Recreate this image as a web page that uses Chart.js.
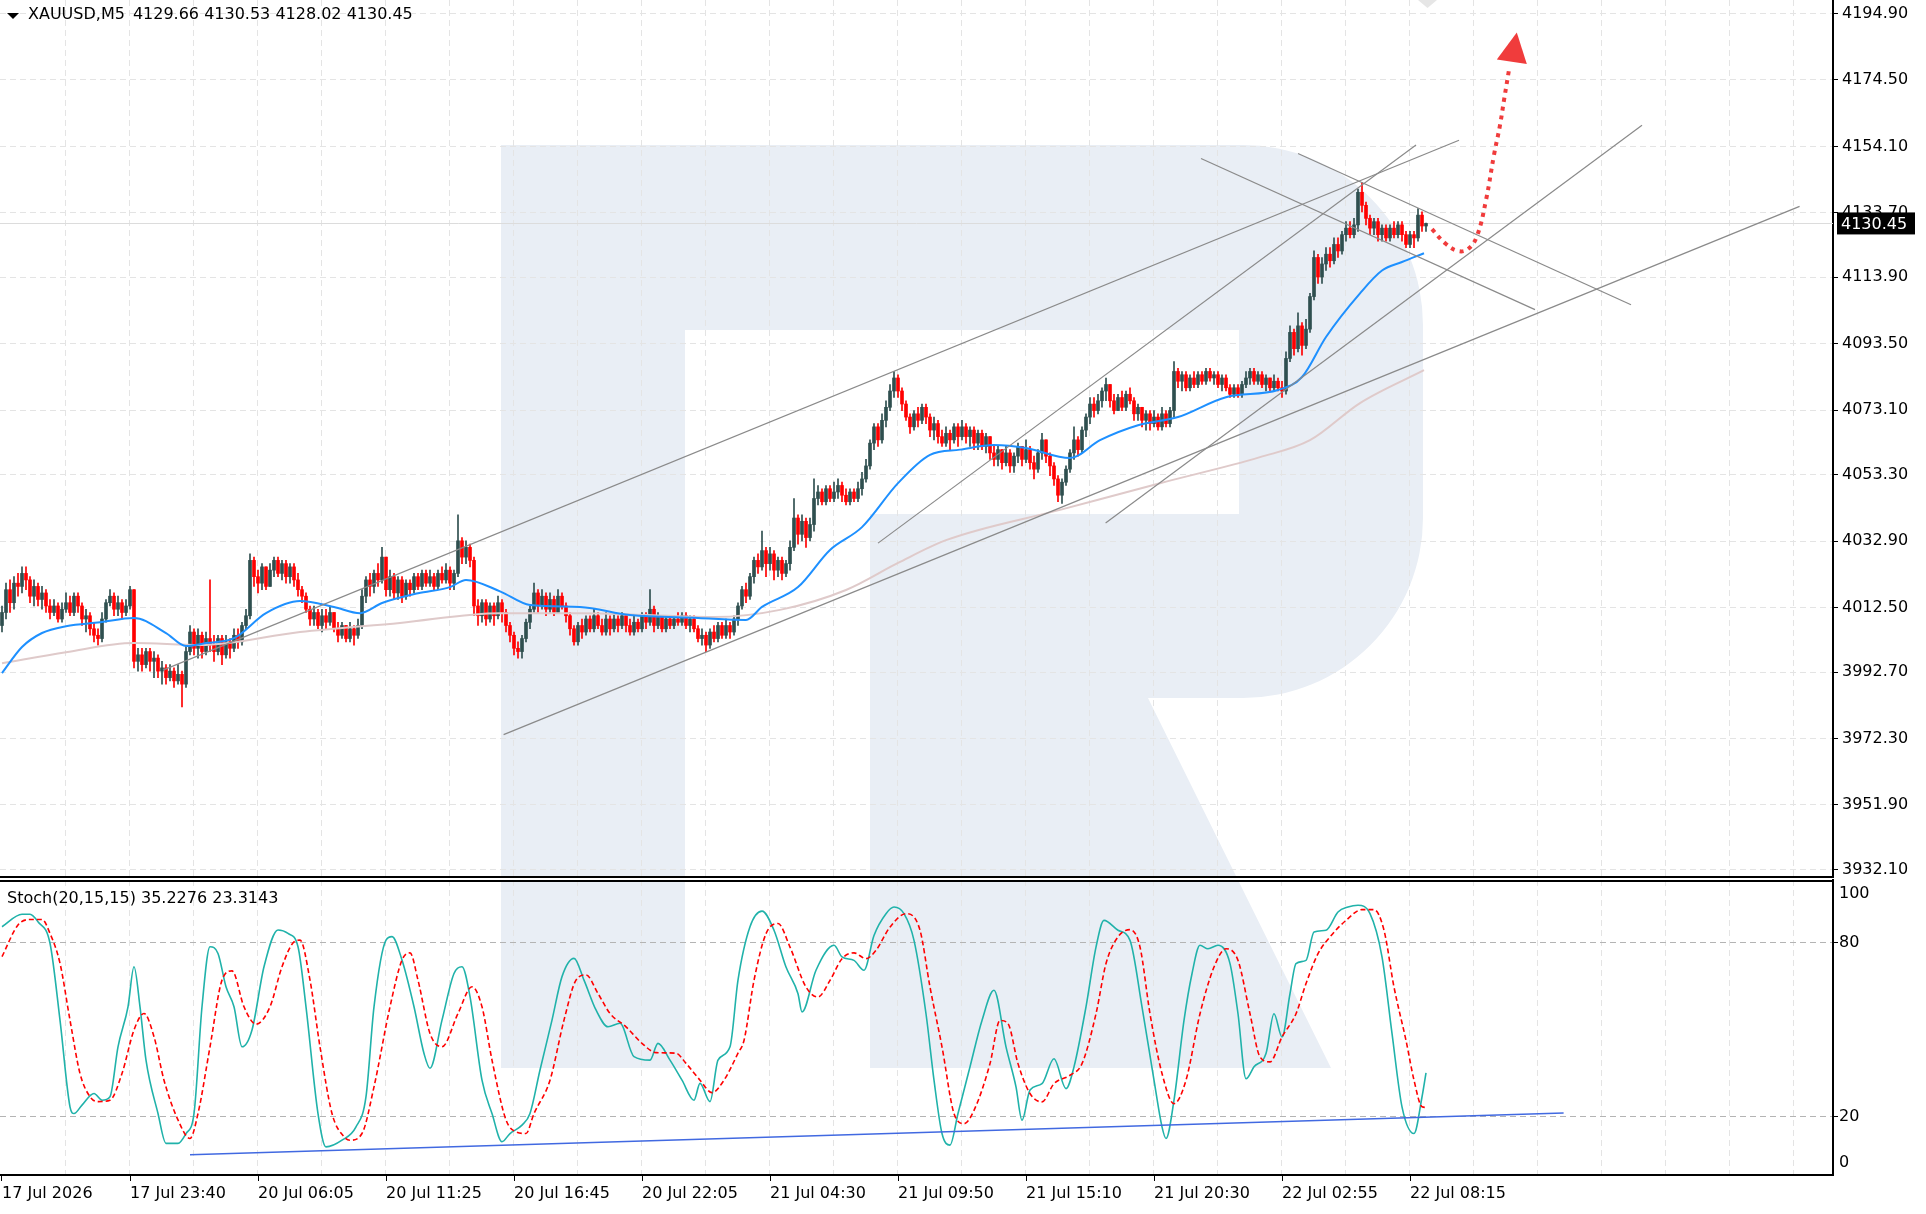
<!DOCTYPE html>
<html>
<head>
<meta charset="utf-8">
<script src="https://cdn.jsdelivr.net/npm/chart.js@4/dist/chart.umd.min.js"></script>
<style>
  html, body { margin: 0; padding: 0; background: #fff; overflow: hidden; }
  #wrap { position: relative; width: 1926px; height: 1214px; }
  #priceChart { position: absolute; left: 0; top: 0; }
  #stochChart { position: absolute; left: 0; top: 878px; }
</style>
</head>
<body>
<div id="wrap">
  <canvas id="priceChart" width="1926" height="878"></canvas>
  <canvas id="stochChart" width="1926" height="336"></canvas>
</div>
<script>
const symbolTitle = 'XAUUSD,M5  4129.66 4130.53 4128.02 4130.45';
const stochTitle = 'Stoch(20,15,15) 35.2276 23.3143';
const bidPrice = 4130.45;
const firstOpen = 4007;

const closes = [4011,4018,4014,4020,4019,4023,4021,4016,4019,4015,
  4017,4013,4011,4013,4009,4012,4014,4011,4016,4013,
  4009,4010,4006,4004,4003,4009,4014,4016,4012,4014,
  4011,4013,4018,3996,3998,3995,3999,3996,3997,3993,
  3994,3991,3993,3990,3992,3989,3999,4005,4000,4004,
  3999,4003,4001,3999,4003,3998,4002,4000,4004,4002,
  4007,4010,4027,4022,4020,4025,4019,4024,4027,4023,
  4026,4022,4025,4021,4018,4016,4012,4009,4011,4007,
  4010,4008,4011,4006,4004,4007,4003,4006,4004,4007,
  4016,4021,4019,4023,4021,4028,4018,4022,4017,4021,
  4016,4020,4018,4022,4019,4023,4020,4022,4019,4023,
  4021,4024,4020,4023,4033,4028,4031,4027,4013,4010,
  4014,4009,4013,4010,4014,4011,4007,4004,4000,3999,
  4003,4008,4012,4017,4013,4016,4012,4015,4011,4016,
  4013,4010,4006,4002,4007,4005,4009,4006,4010,4007,
  4005,4009,4006,4009,4007,4010,4007,4005,4008,4006,
  4010,4008,4012,4007,4010,4006,4009,4007,4009,4008,
  4010,4007,4009,4006,4003,4004,4001,4005,4003,4007,
  4004,4007,4005,4009,4013,4018,4016,4022,4027,4025,
  4030,4026,4029,4024,4027,4023,4026,4031,4040,4035,
  4039,4034,4038,4046,4048,4045,4049,4046,4048,4050,
  4047,4045,4048,4046,4049,4052,4056,4063,4068,4064,
  4070,4074,4079,4083,4079,4075,4071,4068,4072,4070,
  4074,4071,4067,4069,4065,4063,4066,4064,4068,4065,
  4068,4065,4067,4063,4066,4062,4065,4060,4058,4061,
  4057,4060,4056,4059,4062,4058,4061,4057,4055,4060,
  4064,4059,4056,4052,4047,4051,4055,4060,4064,4061,
  4067,4071,4075,4073,4076,4079,4081,4076,4073,4077,
  4074,4078,4076,4072,4074,4070,4072,4069,4071,4068,
  4072,4069,4073,4085,4082,4084,4080,4083,4081,4084,
  4082,4085,4083,4084,4081,4083,4080,4078,4080,4078,
  4081,4083,4085,4082,4084,4081,4083,4080,4082,4080,
  4079,4089,4097,4092,4099,4093,4098,4108,4120,4114,
  4118,4121,4119,4124,4122,4127,4129,4127,4130,4140,
  4136,4132,4129,4131,4127,4129,4126,4129,4127,4130,
  4127,4124,4127,4126,4133,4129.66,4130.45];

const highs = [4013,4020,4021,4022,4023,4025,4025,4022,4021,4020,
  4019,4018,4015,4015,4014,4014,4017,4016,4017,4017,
  4014,4012,4011,4008,4006,4011,4015,4018,4017,4016,
  4015,4015,4019,4018,4000,4000,4000,4000,3999,3998,
  3996,3995,3995,3994,3995,3993,4001,4007,4006,4006,
  4005,4005,4021,4004,4004,4004,4004,4003,4006,4006,
  4008,4012,4029,4028,4024,4026,4025,4026,4028,4028,
  4027,4027,4026,4026,4023,4019,4017,4013,4013,4012,
  4012,4012,4013,4011,4008,4008,4007,4008,4007,4009,
  4018,4022,4023,4024,4026,4031,4028,4024,4023,4022,
  4022,4021,4021,4023,4023,4024,4024,4024,4023,4024,
  4025,4026,4025,4024,4041,4034,4033,4032,4028,4015,
  4015,4015,4014,4014,4016,4015,4012,4008,4005,4002,
  4004,4009,4013,4020,4018,4018,4017,4017,4016,4018,
  4017,4014,4011,4007,4008,4009,4010,4010,4012,4011,
  4009,4011,4010,4011,4010,4011,4010,4009,4010,4009,
  4011,4011,4018,4013,4011,4010,4010,4010,4010,4011,
  4011,4011,4010,4010,4007,4006,4005,4006,4007,4008,
  4008,4009,4008,4010,4014,4019,4020,4023,4028,4029,
  4036,4031,4031,4030,4028,4028,4027,4033,4046,4041,
  4041,4040,4040,4052,4050,4049,4050,4050,4051,4052,
  4051,4049,4049,4049,4051,4054,4058,4064,4069,4069,
  4072,4076,4081,4085,4084,4080,4076,4072,4073,4074,
  4075,4075,4072,4071,4070,4067,4068,4067,4069,4069,
  4070,4069,4068,4068,4067,4067,4066,4065,4062,4062,
  4061,4062,4061,4060,4063,4062,4064,4062,4059,4061,
  4066,4064,4060,4057,4053,4052,4056,4061,4068,4065,
  4068,4072,4077,4077,4078,4080,4083,4081,4078,4078,
  4079,4079,4080,4077,4075,4074,4073,4073,4073,4072,
  4074,4073,4074,4088,4086,4085,4085,4084,4085,4085,
  4085,4086,4086,4085,4085,4084,4084,4081,4081,4081,
  4082,4085,4086,4086,4085,4085,4084,4083,4084,4083,
  4082,4091,4099,4098,4103,4100,4101,4109,4122,4121,
  4120,4123,4123,4126,4126,4128,4131,4131,4132,4141,
  4143,4137,4133,4132,4132,4130,4130,4130,4131,4131,
  4131,4128,4128,4128,4135,4134,4130.53];

const lows = [4005,4009,4011,4012,4016,4017,4018,4014,4013,4013,
  4012,4011,4009,4010,4008,4008,4011,4010,4010,4011,
  4007,4005,4004,4002,4001,4002,4008,4013,4010,4010,
  4009,4010,4012,3994,3993,3993,3994,3993,3991,3991,
  3989,3989,3990,3988,3989,3982,3988,3998,3998,3997,
  3997,3998,3999,3996,3998,3995,3997,3997,3999,4000,
  4001,4006,4009,4019,4017,4018,4018,4020,4022,4022,
  4021,4020,4020,4019,4016,4014,4011,4007,4007,4006,
  4005,4006,4007,4005,4002,4003,4002,4002,4001,4003,
  4006,4014,4016,4017,4019,4020,4016,4016,4015,4015,
  4014,4015,4016,4017,4018,4018,4019,4019,4018,4018,
  4020,4020,4018,4018,4022,4026,4026,4025,4010,4007,
  4008,4007,4008,4007,4009,4008,4005,4002,3998,3997,
  3997,4002,4006,4011,4011,4012,4010,4011,4010,4011,
  4012,4008,4004,4001,4001,4003,4004,4005,4005,4006,
  4004,4004,4004,4005,4005,4006,4005,4004,4004,4005,
  4005,4006,4007,4005,4006,4005,4005,4006,4006,4007,
  4007,4006,4005,4005,4002,4001,3999,4000,4002,4002,
  4003,4003,4003,4004,4007,4012,4014,4015,4020,4023,
  4024,4022,4024,4021,4022,4021,4022,4024,4030,4032,
  4033,4031,4033,4036,4044,4044,4044,4045,4045,4046,
  4045,4044,4044,4045,4045,4047,4051,4055,4061,4062,
  4063,4068,4073,4077,4077,4073,4070,4066,4067,4068,
  4069,4069,4065,4064,4063,4062,4062,4061,4063,4062,
  4064,4063,4062,4061,4061,4061,4060,4058,4056,4056,
  4055,4056,4054,4054,4057,4056,4057,4055,4052,4054,
  4058,4057,4053,4050,4045,4044.5,4050,4054,4058,4059,
  4060,4065,4069,4071,4072,4074,4076,4074,4072,4073,
  4073,4073,4075,4070,4070,4068,4067,4067,4068,4067,
  4067,4068,4068,4071,4080,4079,4079,4079,4080,4080,
  4081,4081,4082,4081,4080,4079,4079,4077,4077,4077,
  4077,4080,4081,4081,4081,4080,4079,4079,4079,4079,
  4077,4078,4088,4090,4091,4090,4092,4097,4107,4112,
  4112,4116,4117,4118,4120,4121,4125,4126,4126,4128,
  4134,4130,4127,4127,4125,4125,4125,4125,4126,4126,
  4125,4123,4123,4123,4125,4128,4128.02];

// [bar, value] pairs
const fastMA = [[0,3992.4],[5,4000.4],[10,4004.7],[16,4006.8],[24.5,4008],[33,4009.3],[41,4004.7],[46,4000.7],
  [51,4001.6],[58,4003.1],[66,4010.8],[74.5,4014.5],[83,4012.7],[89.5,4010.8],[95,4013.9],[104,4016.9],
  [112,4018.8],[116,4021],[124.5,4017.5],[132,4013.3],[144.5,4012.7],[157,4010.2],[174,4009.3],[186,4008.7],
  [190,4012.7],[199,4018.8],[207,4030.2],[215,4037.2],[224,4050.7],[232,4059.4],[239.5,4061],[248,4062.4],
  [256,4061.5],[267,4058.4],[274.5,4063.9],[284,4068.5],[294,4071],[306,4077.1],[319,4079.3],[325,4083.3],
  [331,4095.6],[339.5,4109],[345,4116],[350,4118.6],[355.5,4121.3]];

const slowMA = [[0,3995.4],[16,3998.8],[33,4001.6],[49.5,4001],[74.5,4005],[99.5,4007.8],[124.5,4010.8],
  [144.5,4010.8],[178,4009.6],[194.5,4011.8],[211,4017.9],[224,4026.2],[236,4033.2],[264.5,4042.5],
  [289.5,4050.7],[314.5,4058.7],[327,4063.9],[339.5,4075.3],[355.5,4085.4]];

const trendLines = [
  [[125.4,3973.5],[449.4,4135.7]],
  [[40.25,3993.3],[364.25,4156.0]],
  [[219,4032.3],[353.5,4154.5]],
  [[275.9,4038.5],[410,4160.6]],
  [[299.75,4150.4],[383.25,4104.0]],
  [[324,4151.9],[407.25,4105.5]]
];

const forecastPath = [[357.5,4128.7],[360.75,4124.4],[364,4122.0],[366.5,4122.6],[368.75,4126.6],
  [371,4137.6],[373,4151.5],[374.5,4160.6],[375.5,4168.3],[376.75,4177.6]];
const forecastHead = [[378.7,4189.1],[373.7,4180.8],[381.2,4179.4]];

const stochK = [[0,85.6],[5,89.9],[7,89.9],[9,87.3],[12,79.9],[14.5,53.4],[17,23.5],[18,21.2],[20,24.1],[23,28.1],
  [25,25.8],[27,27],[29,44.2],[31.5,58],[33,71.8],[34.5,58],[36,39.6],[39,21.2],[41,10.9],[44,10.9],
  [46,14.3],[48,21.2],[50,58],[52,78.7],[54,76.4],[56,64.9],[58,58],[60,44.2],[62.5,50],[65.5,71.8],
  [69,84.5],[71.5,83.3],[74,78.7],[76,58],[79,21.2],[81,9.7],[85,12],[88.5,16.6],[91,27],[93,58],
  [96,81],[97.5,82.2],[100,74.1],[103,58],[105.5,41.9],[107,36.8],[110,53.4],[113,69.5],[115,71.8],[117,61.5],
  [120,32.7],[122.5,21.2],[125,11.5],[127,14.3],[130,17.2],[132,21.2],[134.5,36.2],[137.5,53.4],[140,68.4],[143,74.7],
  [145.5,67.2],[148.5,56.9],[151.5,51.1],[154.5,52.3],[158,40.8],[162,39.6],[164,45.4],[167,39.6],[170,32.7],[173,25.8],
  [174.5,31.6],[177,25.3],[179,39.6],[182,44.2],[184,67.2],[187,85.6],[190,91],[193,84.4],[196,71.7],[199,62.5],
  [200,56.2],[203.5,70.6],[208,79.2],[210,75.2],[213,74],[215.5,70.6],[218,82.6],[221,90.1],[223,92.4],[225.5,90.1],
  [228,80.9],[231,55.6],[233,32.7],[235,14.3],[237,10.3],[239,21.2],[242,37.3],[245,53.3],[248,63.7],[251,44.2],
  [253.5,30.4],[255,18.9],[257,29.3],[260,31.5],[263,40.1],[266,29.8],[268,37.3],[271,58],[273.5,78.6],[275.5,87.8],
  [279,84.4],[282,80.9],[285,58],[288,32.7],[290,16.6],[291,12.6],[293,25.8],[295.5,53.3],[297.5,69.4],[299.5,79.2],
  [301.5,78],[304,79.2],[307,72.9],[309,55.6],[311,33.2],[313,37.3],[316,41.9],[318,55.6],[320,47.6],[322,62.5],
  [323.5,72.9],[326,74],[328,83.8],[331,84.4],[334,90.7],[336.5,92.4],[339,93],[342,90.1],[345,75.2],[347.5,48.8],
  [350,23.5],[353,14.3],[355,26.9],[356,35.2]];

const stochD = [[0,75.3],[4,86.2],[7,88.1],[10,88.1],[12,83.3],[14.5,73],[17,53.4],[19.5,35],[22,27],[24,25.3],
  [27,25.8],[30,35],[33,50],[35.5,55.7],[38,47.7],[40.5,32.7],[44,19],[47,12.6],[49,21.2],[52,44.2],
  [55,67.2],[57.5,70.4],[60.5,58],[63.5,52],[67,58],[70,71.8],[73,80.4],[74.5,81],[77,67.2],[79.5,44.2],
  [82.5,21.2],[85.5,13.2],[87,12],[90,14.3],[93,30.4],[97,58],[100,74.1],[102,76.6],[104,67.2],[107,48.8],
  [110,44.2],[114,55.7],[117.5,64.9],[120,58],[122.5,39.6],[126,19],[128.5,14.9],[131,14.3],[133,21.2],[137,32.7],
  [140.5,53.4],[143.5,67.2],[146,69],[149,62.6],[152,55.7],[156,51.1],[160,45.4],[163.5,42.2],[168.5,42],[171,38.5],
  [174.5,32.7],[177.5,28.4],[180.5,32.7],[184,42],[185.5,46.4],[188,67.1],[191,83.2],[194,86.7],[197,78.6],[201,64.8],
  [204,61.4],[207,67.1],[210,74.6],[213,76.6],[216,74.6],[218.5,77.5],[222,85.5],[226,90.1],[229.5,84.4],[232,64.8],
  [235,44.2],[238,21.2],[240.5,17.7],[243,22.3],[247,38.4],[249.5,53.3],[251.5,52.2],[254,38.4],[257,28.1],[260,25.2],
  [263,31.5],[267,34.4],[270,38.4],[273.5,55.6],[276,72.9],[279,82.1],[282,84.6],[284.5,78.6],[287,55.6],[290,35],
  [293,24.6],[296,32.7],[299.5,55.6],[303,71.7],[306,78],[309,74],[312,55.6],[314.5,40.7],[317,39],[320,47.6],
  [323.5,55.6],[326,66],[329,76.3],[332,82.1],[336,87.8],[340,91.5],[343,91.5],[345.5,84.4],[348,64.8],[351,46.4],
  [353,32.7],[355,23.5],[356,23.3]];

const stochSupport = [[47,7.0],[390.4,21.4]];

const timeLabels = ['17 Jul 2026','17 Jul 23:40','20 Jul 06:05','20 Jul 11:25','20 Jul 16:45','20 Jul 22:05',
  '21 Jul 04:30','21 Jul 09:50','21 Jul 15:10','21 Jul 20:30','22 Jul 02:55','22 Jul 08:15'];
const labelStep = 32;
const priceTicks = [4194.90,4174.50,4154.10,4133.70,4113.90,4093.50,4073.10,4053.30,4032.90,4012.50,3992.70,3972.30,3951.90,3932.10];
const stochLevels = [20, 80];
const stochAxisLabels = [100, 80, 20, 0];

Chart.defaults.font.family = '"DejaVu Sans", sans-serif';
Chart.defaults.font.size = 16;
Chart.defaults.color = '#000';

const bull = '#2f4f4f', bear = '#ff0000', arrowRed = '#f03c3c';
const gridGrey = '#e4e4e4';
const xMin = -0.5, xMax = 457.75;

const opens = closes.map((c, i) => i === 0 ? firstOpen : closes[i - 1]);
const barColors = closes.map((c, i) => c >= opens[i] ? bull : bear);
const bodies = closes.map((c, i) => ({ x: i, y: [opens[i], c] }));
const wicks = closes.map((c, i) => ({ x: i, y: [Math.min(lows[i], opens[i], c), Math.max(highs[i], opens[i], c)] }));
const pts = arr => arr.map(([x, y]) => ({ x, y }));

// RoboForex style watermark, drawn in page pixels
function drawLogo(ctx, offsetY) {
  ctx.save();
  ctx.translate(0, -offsetY);
  ctx.fillStyle = '#e9eef5';
  ctx.beginPath();
  ctx.moveTo(501, 145);
  ctx.lineTo(1243, 145);
  ctx.arcTo(1423, 145, 1423, 325, 180);
  ctx.lineTo(1423, 518);
  ctx.arcTo(1423, 698, 1243, 698, 180);
  ctx.lineTo(1148, 698);
  ctx.lineTo(1331, 1068);
  ctx.lineTo(870, 1068);
  ctx.lineTo(870, 514);
  ctx.lineTo(1239, 514);
  ctx.lineTo(1239, 330);
  ctx.lineTo(685, 330);
  ctx.lineTo(685, 1068);
  ctx.lineTo(501, 1068);
  ctx.closePath();
  ctx.fill();
  ctx.restore();
}

function drawVerticalGrid(chart) {
  const { ctx, chartArea, scales } = chart;
  ctx.save();
  ctx.strokeStyle = gridGrey;
  ctx.lineWidth = 1;
  ctx.setLineDash([6, 4]);
  for (let m = 1; m <= 28; m++) {
    const x = Math.round(scales.x.getPixelForValue(16 * m - 0.25)) + 0.5;
    if (x >= chartArea.right) break;
    ctx.beginPath();
    ctx.moveTo(x, chartArea.top);
    ctx.lineTo(x, chartArea.bottom);
    ctx.stroke();
  }
  ctx.restore();
}

const pricePlugin = {
  id: 'pricePlugin',
  beforeDraw(chart) {
    const { ctx, chartArea } = chart;
    ctx.save();
    ctx.beginPath();
    ctx.rect(chartArea.left, chartArea.top, chartArea.right - chartArea.left, chartArea.bottom - chartArea.top);
    ctx.clip();
    drawLogo(ctx, 0);
    ctx.restore();
    drawVerticalGrid(chart);
  },
  beforeDatasetsDraw(chart) {
    const { ctx, chartArea, scales } = chart;
    const y = Math.round(scales.y.getPixelForValue(bidPrice)) + 0.5;
    ctx.save();
    ctx.strokeStyle = '#dcdcdc';
    ctx.lineWidth = 1;
    ctx.beginPath();
    ctx.moveTo(chartArea.left, y);
    ctx.lineTo(chartArea.right, y);
    ctx.stroke();
    // chart shift marker
    ctx.fillStyle = '#e6e6e6';
    ctx.beginPath();
    ctx.moveTo(1418, 0);
    ctx.lineTo(1437, 0);
    ctx.lineTo(1427.5, 8);
    ctx.closePath();
    ctx.fill();
    ctx.restore();
  },
  afterDatasetsDraw(chart) {
    const { ctx, scales } = chart;
    ctx.save();
    ctx.fillStyle = arrowRed;
    ctx.beginPath();
    forecastHead.forEach(([i, p], k) => {
      const X = scales.x.getPixelForValue(i), Y = scales.y.getPixelForValue(p);
      if (k) ctx.lineTo(X, Y); else ctx.moveTo(X, Y);
    });
    ctx.closePath();
    ctx.fill();
    ctx.restore();
  },
  afterDraw(chart) {
    const { ctx, chartArea, scales } = chart;
    ctx.save();
    // panel bottom border
    ctx.fillStyle = '#000';
    ctx.fillRect(0, chartArea.bottom - 2, chartArea.right, 2);
    // title
    ctx.beginPath();
    ctx.moveTo(7, 13);
    ctx.lineTo(19, 13);
    ctx.lineTo(13, 19);
    ctx.closePath();
    ctx.fill();
    ctx.font = '16px "DejaVu Sans"';
    ctx.textBaseline = 'middle';
    ctx.textAlign = 'left';
    ctx.fillText(symbolTitle.replace('  ', '\u2002'), 28, 15);
    // bid price label
    const y = scales.y.getPixelForValue(bidPrice);
    ctx.fillStyle = '#000';
    ctx.fillRect(chartArea.right + 4, y - 11, 78, 22);
    ctx.fillStyle = '#fff';
    ctx.fillText(bidPrice.toFixed(2), chartArea.right + 8, y + 1);
    ctx.restore();
  }
};

const stochPlugin = {
  id: 'stochPlugin',
  beforeDraw(chart) {
    const { ctx, chartArea } = chart;
    ctx.save();
    ctx.beginPath();
    ctx.rect(chartArea.left, chartArea.top, chartArea.right - chartArea.left, chartArea.bottom - chartArea.top);
    ctx.clip();
    drawLogo(ctx, 878);
    ctx.restore();
    drawVerticalGrid(chart);
  },
  afterDraw(chart) {
    const { ctx, chartArea, scales } = chart;
    ctx.save();
    ctx.fillStyle = '#000';
    ctx.fillRect(0, chartArea.top, chartArea.right, 2);
    ctx.font = '16px "DejaVu Sans"';
    ctx.textBaseline = 'middle';
    ctx.textAlign = 'left';
    ctx.fillText(stochTitle, 7, chartArea.top + 19);
    stochAxisLabels.forEach(v => {
      let y = scales.y.getPixelForValue(v);
      if (v === 100) y += 9;
      if (v === 0) y -= 12;
      ctx.fillText(String(v), chartArea.right + 6, y);
    });
    ctx.restore();
  }
};

const lineStyle = { type: 'line', pointRadius: 0, fill: false };

new Chart(document.getElementById('priceChart'), {
  type: 'bar',
  data: {
    datasets: [
      { ...lineStyle, data: pts(forecastPath), borderColor: arrowRed, borderWidth: 4, borderDash: [4, 5], borderCapStyle: 'butt', tension: 0.4, order: 1 },
      ...trendLines.map(seg => ({ ...lineStyle, data: pts(seg), borderColor: '#8a8a8a', borderWidth: 1.2, order: 2 })),
      { ...lineStyle, data: pts(fastMA), borderColor: '#1e90ff', borderWidth: 2, cubicInterpolationMode: 'monotone', order: 3 },
      { ...lineStyle, data: pts(slowMA), borderColor: '#dfcaca', borderWidth: 2, cubicInterpolationMode: 'monotone', order: 4 },
      { type: 'bar', data: bodies, backgroundColor: barColors, barThickness: 3, grouped: false, order: 5 },
      { type: 'bar', data: wicks, backgroundColor: barColors, barThickness: 1, grouped: false, order: 6 }
    ]
  },
  options: {
    responsive: false,
    animation: false,
    devicePixelRatio: 1,
    events: [],
    layout: { padding: 0 },
    plugins: { legend: { display: false }, tooltip: { enabled: false } },
    scales: {
      x: { type: 'linear', display: false, min: xMin, max: xMax, offset: false },
      y: {
        position: 'right',
        min: 3929.48,
        max: 4199.05,
        afterBuildTicks: s => { s.ticks = priceTicks.map(v => ({ value: v })); },
        afterFit: s => { s.width = 93; s.paddingTop = 0; s.paddingBottom = 0; },
        ticks: { color: '#000', padding: 4, callback: v => Number(v).toFixed(2) },
        grid: { color: gridGrey, lineWidth: 1, tickColor: '#000', tickLength: 5, tickWidth: 1 },
        border: { display: true, color: '#000', width: 2, dash: [6, 4] }
      }
    }
  },
  plugins: [pricePlugin]
});

new Chart(document.getElementById('stochChart'), {
  type: 'line',
  data: {
    datasets: [
      { ...lineStyle, data: pts(stochSupport), borderColor: '#4169e1', borderWidth: 1.5, order: 1 },
      { ...lineStyle, data: pts(stochK), borderColor: '#20b2aa', borderWidth: 1.6, cubicInterpolationMode: 'monotone', order: 3 },
      { ...lineStyle, data: pts(stochD), borderColor: '#ff0000', borderWidth: 1.6, borderDash: [5, 3], cubicInterpolationMode: 'monotone', order: 2 }
    ]
  },
  options: {
    responsive: false,
    animation: false,
    devicePixelRatio: 1,
    events: [],
    layout: { padding: { top: 2 } },
    plugins: { legend: { display: false }, tooltip: { enabled: false } },
    scales: {
      x: {
        type: 'linear',
        min: xMin,
        max: xMax,
        offset: false,
        afterBuildTicks: s => { s.ticks = timeLabels.map((_, k) => ({ value: k * labelStep })); },
        afterFit: s => { s.height = 39; s.paddingLeft = 0; s.paddingRight = 0; },
        ticks: { color: '#000', autoSkip: false, maxRotation: 0, minRotation: 0, align: 'start', padding: 3,
                 callback: (v, i) => timeLabels[i] },
        grid: { drawOnChartArea: false, drawTicks: true, tickLength: 6, tickColor: '#000' },
        border: { display: true, color: '#000', width: 2 }
      },
      y: {
        position: 'right',
        min: 0,
        max: 101.72,
        afterBuildTicks: s => { s.ticks = stochLevels.map(v => ({ value: v })); },
        afterFit: s => { s.width = 93; s.paddingTop = 0; s.paddingBottom = 0; },
        ticks: { display: false },
        grid: { color: '#b4b4b4', lineWidth: 1, tickColor: '#000', tickLength: 5 },
        border: { display: true, color: '#000', width: 2, dash: [6, 4] }
      }
    }
  },
  plugins: [stochPlugin]
});
</script>
</body>
</html>
